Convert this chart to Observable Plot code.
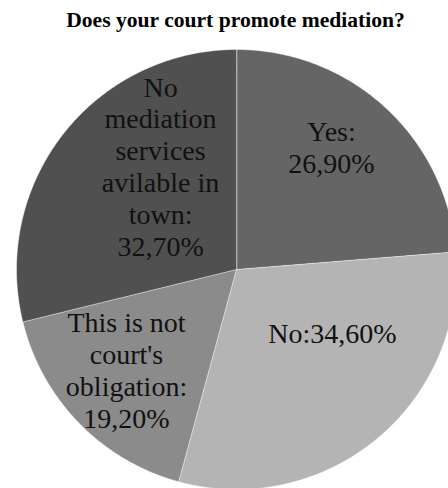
<!DOCTYPE html>
<html>
<head>
<meta charset="utf-8">
<script src="https://cdn.jsdelivr.net/npm/d3@7"></script>
<script src="https://cdn.jsdelivr.net/npm/@observablehq/plot@0.6"></script>
<style>
  html, body { margin: 0; padding: 0; background: #fff; overflow: hidden; }
</style>
</head>
<body>
<div id="chart"></div>
<script>
// ---- data ----
const title = "Does your court promote mediation?";
const categories = ["Yes", "No", "This is not court's obligation", "No mediation services avilable in town"];
const values = [26.9, 34.6, 19.2, 32.7];
const labels = ["Yes:\n26,90%", "No:34,60%", "This is not\ncourt's\nobligation:\n19,20%", "No\nmediation\nservices\navilable in\ntown:\n32,70%"];

// ---- style / layout ----
const palette = ["#656565", "#b4b4b4", "#8b8b8b", "#505050"];
const W = 448, H = 488;
const cx = 236, cy = 269, R = 220;
// Excel "best fit" label placement: [angle in degrees from 12 o'clock, radius fraction]
const labelPolar = [[37.7, 0.706], [123.3, 0.522], [227.6, 0.677], [323.7, 0.583]];

const arcs = d3.pie().sort(null).value(d => d)(values);
const pt = (a, r) => ({x: cx + r * Math.sin(a), y: cy - r * Math.cos(a)});

const slices = arcs.map((a, i) => {
  const pts = [{...pt(0, 0), k: categories[i]}];
  const n = Math.max(2, Math.ceil((a.endAngle - a.startAngle) / (Math.PI / 360)));
  for (let j = 0; j <= n; j++) {
    const ang = a.startAngle + (a.endAngle - a.startAngle) * j / n;
    pts.push({...pt(ang, R), k: categories[i]});
  }
  return pts;
});

const labelData = labels.map((t, i) => {
  const [deg, f] = labelPolar[i];
  return {t, ...pt(deg * Math.PI / 180, f * R)};
});

const plot = Plot.plot({
  width: W,
  height: H,
  margin: 0,
  x: {domain: [0, W], range: [0, W], axis: null},
  y: {domain: [0, H], range: [0, H], axis: null},
  style: {background: "#fff", fontFamily: "'Liberation Serif', 'Times New Roman', serif"},
  marks: [
    ...slices.map((s, i) => Plot.line(s, {
      x: "x", y: "y", curve: "linear-closed",
      fill: palette[i], stroke: "#ffffff", strokeOpacity: 0.45, strokeWidth: 1
    })),
    Plot.text(labelData, {
      x: "x", y: "y", text: "t",
      fontFamily: "'Liberation Serif', 'Times New Roman', serif", fontSize: 28, lineHeight: 1.14,
      fill: "#111", textAnchor: "middle", lineAnchor: "middle"
    }),
    Plot.text([title], {
      frameAnchor: "top", dx: 11, dy: 20, lineAnchor: "middle",
      fontFamily: "'Liberation Serif', 'Times New Roman', serif", fontWeight: "bold", fontSize: 21.6, fill: "#000"
    })
  ]
});
document.getElementById("chart").appendChild(plot);
</script>
</body>
</html>
